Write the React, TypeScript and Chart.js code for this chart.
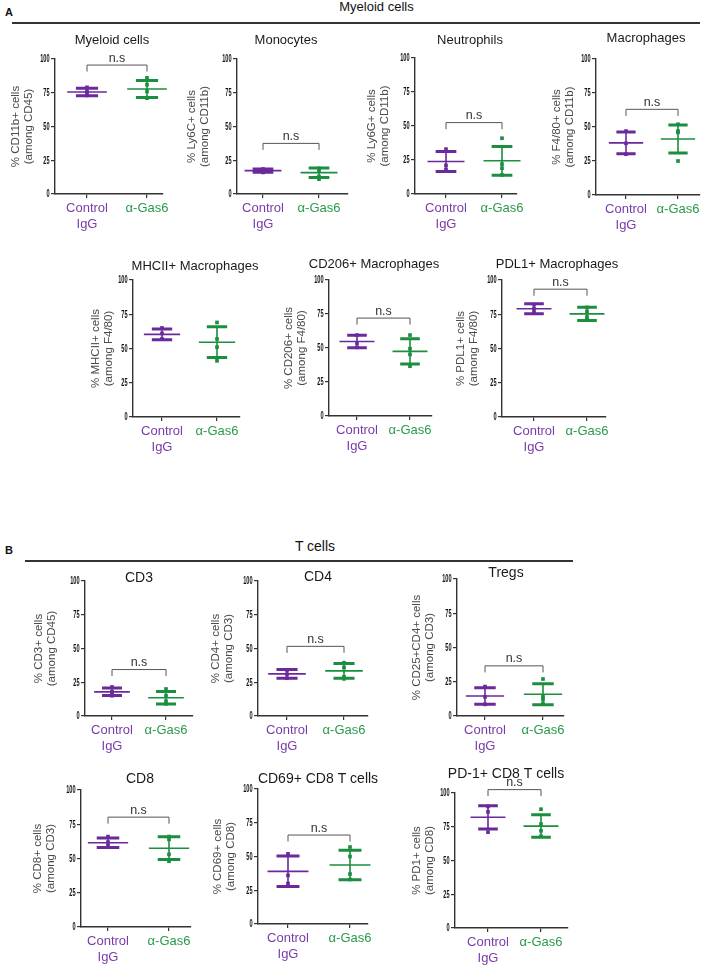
import React, { useEffect, useRef } from 'react';
import { Chart, registerables } from 'chart.js';

Chart.register(...registerables);

// ---------------- data ----------------
const GROUP_LABELS: (string | string[])[] = [['Control', 'IgG'], 'α-Gas6'];
const Y_TICKS = [0, 25, 50, 75, 100];

const PANEL_TITLES = [
  'Myeloid cells', 'Monocytes', 'Neutrophils', 'Macrophages',
  'MHCII+ Macrophages', 'CD206+ Macrophages', 'PDL1+ Macrophages',
  'CD3', 'CD4', 'Tregs',
  'CD8', 'CD69+ CD8 T cells', 'PD-1+ CD8 T cells',
];

const Y_TITLES = [
  ['% CD11b+ cells', '(among CD45)'],
  ['% Ly6C+ cells', '(among CD11b)'],
  ['% Ly6G+ cells', '(among CD11b)'],
  ['% F4/80+ cells', '(among CD11b)'],
  ['% MHCII+ cells', '(among F4/80)'],
  ['% CD206+ cells', '(among F4/80)'],
  ['% PDL1+ cells', '(among F4/80)'],
  ['% CD3+ cells', '(among CD45)'],
  ['% CD4+ cells', '(among CD3)'],
  ['% CD25+CD4+ cells', '(among CD3)'],
  ['% CD8+ cells', '(among CD3)'],
  ['% CD69+ cells', '(among CD8)'],
  ['% PD1+ cells', '(among CD8)'],
];

const CTRL_POINTS = [
  [79, 76, 75, 73],
  [18.5, 17, 16.5, 16],
  [33, 21, 18],
  [47, 38, 30],
  [65, 61, 57],
  [59.5, 53.5, 50.5],
  [82, 79, 76.5],
  [21.5, 18, 17, 15],
  [34, 31, 28],
  [21.5, 14, 8.5],
  [66, 62, 59.5],
  [52, 36, 30],
  [90, 86, 71],
];

const GAS6_POINTS = [
  [86, 81, 76, 71],
  [19, 17, 13, 11],
  [41, 22, 19, 14],
  [52, 47, 46, 25],
  [69, 57, 51, 41],
  [59.5, 49.5, 45.3, 36.6],
  [80, 77, 73, 71],
  [20, 15, 11, 9],
  [39.5, 36, 29, 27.5],
  [27, 14, 12, 9],
  [66, 64, 53, 48],
  [57, 50, 37, 33],
  [88, 77, 72, 68],
];

const CTRL_MEAN = [75.6, 17.3, 23.9, 38.3, 60.3, 54.8, 79, 17.9, 31.2, 14.6, 61.5, 39, 82];
const CTRL_SD = [2.75, 1.2, 7.3, 8, 3.9, 4.6, 3.7, 2.8, 3.2, 6, 3.5, 11.3, 8.6];
const GAS6_MEAN = [77.8, 15.8, 24.4, 41.2, 54.6, 47.5, 75.3, 13.5, 33.4, 15.9, 57.5, 43.7, 75.5];
const GAS6_SD = [6.3, 3.5, 10.6, 10.3, 11.2, 9.3, 4.8, 4.7, 5.4, 7.7, 8.3, 10.9, 8.3];
const NS_LEVEL: (number | null)[] = [95.5, 37.5, 52.5, 63, null, 72, 93.3, 34.4, 51.6, 36.6, 80.2, 65.9, 102.5];

// ---------------- layout (page pixels) ----------------
const PANEL_LAYOUT = [
  { axisX: 55, yTop: 59, yBot: 194, t1: 87, t2: 147, xEnd: 163, titleX: 112, titleY: 39, titleSize: 13, yTitleX: 15.5 },
  { axisX: 237, yTop: 59, yBot: 194, t1: 263, t2: 319, xEnd: 348, titleX: 286, titleY: 39, titleSize: 13, yTitleX: 192 },
  { axisX: 415, yTop: 58, yBot: 194, t1: 446, t2: 502, xEnd: 517, titleX: 470, titleY: 39, titleSize: 13, yTitleX: 372 },
  { axisX: 596, yTop: 59, yBot: 195, t1: 626, t2: 678, xEnd: 700, titleX: 646, titleY: 37, titleSize: 13, yTitleX: 557 },
  { axisX: 133, yTop: 280, yBot: 417, t1: 162, t2: 217, xEnd: 240, titleX: 195, titleY: 265, titleSize: 13, yTitleX: 96 },
  { axisX: 329, yTop: 280, yBot: 416, t1: 357, t2: 410, xEnd: 432, titleX: 374, titleY: 263, titleSize: 13, yTitleX: 289 },
  { axisX: 502, yTop: 280, yBot: 417, t1: 534, t2: 587, xEnd: 606, titleX: 557, titleY: 263, titleSize: 13, yTitleX: 461 },
  { axisX: 85, yTop: 581, yBot: 716, t1: 112, t2: 166, xEnd: 193, titleX: 139, titleY: 577, titleSize: 14, yTitleX: 39 },
  { axisX: 258, yTop: 581, yBot: 716, t1: 287, t2: 344, xEnd: 368, titleX: 318, titleY: 576, titleSize: 14, yTitleX: 216 },
  { axisX: 457, yTop: 579, yBot: 716, t1: 485, t2: 543, xEnd: 564, titleX: 506, titleY: 572, titleSize: 14, yTitleX: 417 },
  { axisX: 81, yTop: 790, yBot: 927, t1: 108, t2: 169, xEnd: 191, titleX: 140, titleY: 778, titleSize: 14, yTitleX: 38 },
  { axisX: 258, yTop: 789, yBot: 924, t1: 288, t2: 350, xEnd: 368, titleX: 318, titleY: 778, titleSize: 14, yTitleX: 218 },
  { axisX: 455, yTop: 793, yBot: 928, t1: 488, t2: 541, xEnd: 568, titleX: 506, titleY: 773, titleSize: 14, yTitleX: 417 },
];

// ---------------- styles ----------------
const FONT = '"Liberation Sans", Arial, Helvetica, sans-serif';
const PURPLE = '#6B2A9C';
const GREEN = '#1B8E3F';
const PURPLE_TEXT = '#7A3BAA';
const GREEN_TEXT = '#2A9A4A';
const AXIS = '#333333';
const Y_TITLE_SIZE = 11.5;
const Y_TITLE_LH = 1.15;
const TICK_SIZE = 10;
const TICK_SX = 0.56;
const TICK_LEN = 4;
const PAD_RIGHT = 30;
const X_AXIS_H = 45;
const MEAN_HALF = 0.33;
const CAP_HALF = 0.185;
const NS_LEG = 4.8;

Chart.defaults.font.family = FONT;

function Panel({ idx }: { idx: number }) {
  const ref = useRef<HTMLCanvasElement | null>(null);
  const g = PANEL_LAYOUT[idx];
  const left = Math.round(g.yTitleX - (Y_TITLE_SIZE * Y_TITLE_LH) / 2);
  const top = Math.round(Math.min(g.titleY, g.yTop) - 16);
  const width = g.xEnd - left + PAD_RIGHT;
  const height = g.yBot - top + X_AXIS_H;

  useEffect(() => {
    const canvas = ref.current;
    if (!canvas) return;
    const unit = g.t2 - g.t1;
    const xMin = 1 - (g.t1 - g.axisX) / unit;
    const xMax = 2 + (g.xEnd - g.t2) / unit;
    const yW = g.axisX - left;
    const groups = [
      { mean: CTRL_MEAN[idx], sd: CTRL_SD[idx], color: PURPLE },
      { mean: GAS6_MEAN[idx], sd: GAS6_SD[idx], color: GREEN },
    ];
    const decor = {
      id: 'decor',
      afterDatasetsDraw(chart: any) {
        const ctx = chart.ctx as CanvasRenderingContext2D;
        const x = chart.scales.x;
        const y = chart.scales.y;
        ctx.save();
        // condensed y tick labels, placed from the y scale's own ticks
        ctx.font = `bold ${TICK_SIZE}px ${FONT}`;
        ctx.fillStyle = '#111';
        ctx.textAlign = 'right';
        ctx.textBaseline = 'middle';
        y.ticks.forEach((t: any) => {
          const py = y.getPixelForValue(t.value);
          ctx.save();
          ctx.translate(y.right - TICK_LEN - 1.5, py + 0.5);
          ctx.scale(TICK_SX, 1);
          ctx.fillText(String(t.value), 0, 0);
          ctx.restore();
        });
        groups.forEach((gr, k) => {
          const cx = x.getPixelForValue(k + 1);
          const mh = x.getPixelForValue(k + 1 + MEAN_HALF) - cx;
          const ch = x.getPixelForValue(k + 1 + CAP_HALF) - cx;
          const ym = y.getPixelForValue(gr.mean);
          const yh = y.getPixelForValue(gr.mean + gr.sd);
          const yl = y.getPixelForValue(gr.mean - gr.sd);
          ctx.strokeStyle = gr.color;
          ctx.lineCap = 'butt';
          ctx.lineWidth = 1.6;
          ctx.beginPath();
          ctx.moveTo(cx, yh);
          ctx.lineTo(cx, yl);
          ctx.moveTo(cx - mh, ym);
          ctx.lineTo(cx + mh, ym);
          ctx.stroke();
          ctx.lineWidth = 3;
          ctx.beginPath();
          ctx.moveTo(cx - ch, yh);
          ctx.lineTo(cx + ch, yh);
          ctx.moveTo(cx - ch, yl);
          ctx.lineTo(cx + ch, yl);
          ctx.stroke();
        });
        const ns = NS_LEVEL[idx];
        if (ns != null) {
          const x1 = x.getPixelForValue(1);
          const x2 = x.getPixelForValue(2);
          const yb = y.getPixelForValue(ns);
          const yl = y.getPixelForValue(ns - NS_LEG);
          ctx.strokeStyle = '#555';
          ctx.lineWidth = 1;
          ctx.beginPath();
          ctx.moveTo(x1, yl);
          ctx.lineTo(x1, yb);
          ctx.lineTo(x2, yb);
          ctx.lineTo(x2, yl);
          ctx.stroke();
          ctx.fillStyle = '#333';
          ctx.font = `12.5px ${FONT}`;
          ctx.textAlign = 'center';
          ctx.textBaseline = 'alphabetic';
          ctx.fillText('n.s', (x1 + x2) / 2, yb - 3.5);
        }
        ctx.fillStyle = '#1a1a1a';
        ctx.font = `${g.titleSize}px ${FONT}`;
        ctx.textAlign = 'center';
        ctx.textBaseline = 'alphabetic';
        ctx.fillText(PANEL_TITLES[idx], g.titleX - left, g.titleY - top + g.titleSize * 0.36);
        ctx.restore();
      },
    };

    const chart = new Chart(canvas, {
      type: 'scatter',
      data: {
        datasets: [
          {
            data: CTRL_POINTS[idx].map((v) => ({ x: 1, y: v })),
            backgroundColor: PURPLE,
            borderWidth: 0,
            pointStyle: 'rect',
            pointRadius: 2.6,
          },
          {
            data: GAS6_POINTS[idx].map((v) => ({ x: 2, y: v })),
            backgroundColor: GREEN,
            borderWidth: 0,
            pointStyle: 'rect',
            pointRadius: 2.6,
          },
        ],
      },
      options: {
        animation: false,
        responsive: false,
        devicePixelRatio: 1,
        layout: { padding: { top: g.yTop - top, right: PAD_RIGHT, bottom: 0, left: 0 } },
        plugins: { legend: { display: false }, tooltip: { enabled: false }, title: { display: false } },
        scales: {
          x: {
            type: 'linear',
            min: xMin,
            max: xMax,
            afterFit: (s: any) => { s.height = X_AXIS_H; },
            afterBuildTicks: (s: any) => { s.ticks = [{ value: 1 }, { value: 2 }]; },
            ticks: {
              autoSkip: false,
              maxRotation: 0,
              padding: 1.5,
              callback: (v: any) => (v === 1 ? GROUP_LABELS[0] : v === 2 ? GROUP_LABELS[1] : ''),
              color: (c: any) => (c.index === 0 ? PURPLE_TEXT : GREEN_TEXT),
              font: { family: FONT, size: 13, lineHeight: 1.3 },
            },
            grid: { display: true, drawOnChartArea: false, drawTicks: true, tickLength: TICK_LEN, color: AXIS, lineWidth: 1.2 },
            border: { display: true, color: AXIS, width: 1.4 },
          },
          y: {
            type: 'linear',
            min: 0,
            max: 100,
            afterFit: (s: any) => { s.width = yW; },
            afterBuildTicks: (s: any) => { s.ticks = Y_TICKS.map((v) => ({ value: v })); },
            ticks: { display: false },
            grid: { display: true, drawOnChartArea: false, drawTicks: true, tickLength: TICK_LEN, color: AXIS, lineWidth: 1.2 },
            border: { display: true, color: AXIS, width: 1.4 },
            title: {
              display: true,
              text: Y_TITLES[idx],
              color: '#4a4a4a',
              font: { family: FONT, size: Y_TITLE_SIZE, lineHeight: Y_TITLE_LH },
              padding: { top: 0, bottom: 0 },
            },
          },
        },
      } as any,
      plugins: [decor as any],
    });
    return () => chart.destroy();
  }, []);

  return (
    <canvas
      ref={ref}
      width={width}
      height={height}
      style={{ position: 'absolute', left, top, width, height }}
    />
  );
}

function Txt({ x, y, size, bold, text, center }: { x: number; y: number; size: number; bold?: boolean; text: string; center?: boolean }) {
  return (
    <div
      style={{
        position: 'absolute',
        left: x,
        top: y - 0.3465 * size,
        height: 0,
        lineHeight: '0px',
        fontFamily: FONT,
        fontSize: size,
        fontWeight: bold ? 700 : 400,
        whiteSpace: 'nowrap',
        color: '#111',
        transform: center ? 'translateX(-50%)' : undefined,
      }}
    >
      {text}
    </div>
  );
}

export default function App() {
  return (
    <div style={{ position: 'absolute', left: 0, top: 0, width: 708, height: 967, background: '#fff', overflow: 'hidden' }}>
      <Txt x={5} y={15.5} size={11} bold text="A" />
      <Txt x={376.5} y={12} size={13} center text="Myeloid cells" />
      <div style={{ position: 'absolute', left: 12, top: 22, width: 688, height: 2, background: '#333' }} />
      <Txt x={5} y={553.5} size={11} bold text="B" />
      <Txt x={315} y={551} size={14} center text="T cells" />
      <div style={{ position: 'absolute', left: 25, top: 560, width: 548, height: 2, background: '#333' }} />
      {PANEL_TITLES.map((_, i) => (
        <Panel key={i} idx={i} />
      ))}
    </div>
  );
}
